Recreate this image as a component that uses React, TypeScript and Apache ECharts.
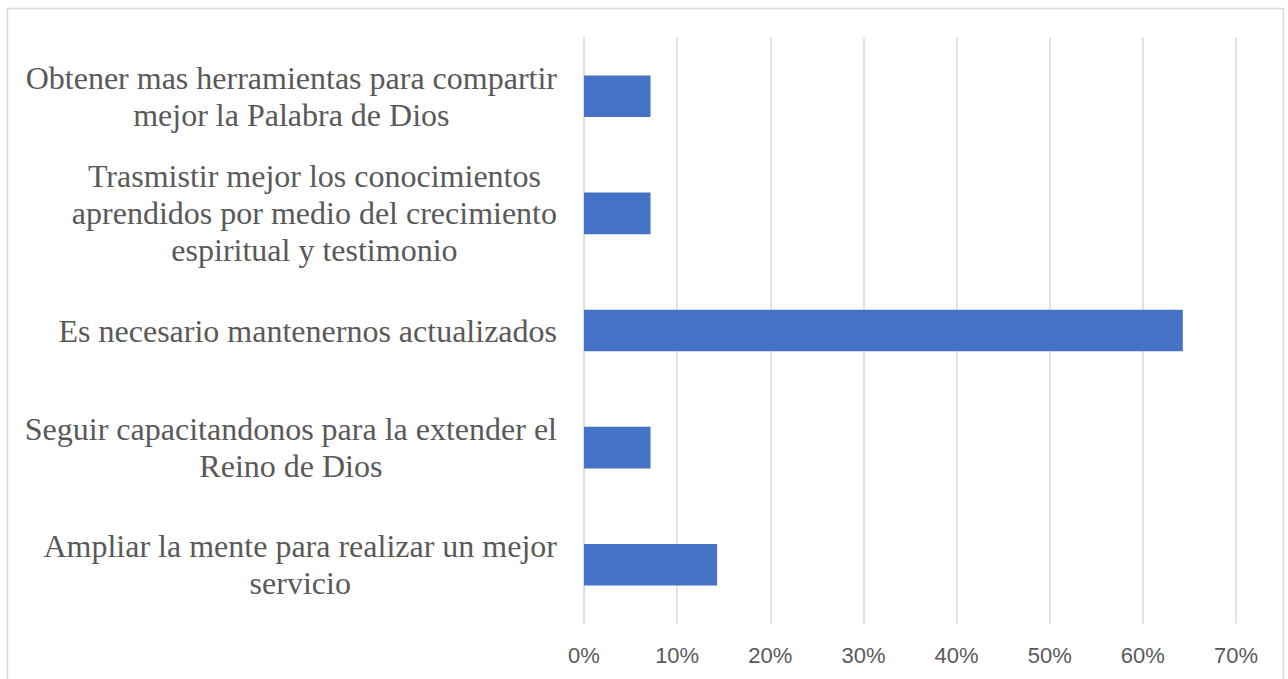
import React, { useEffect, useRef } from "react";
import * as echarts from "echarts";

const categories: string[] = [
  "Ampliar la mente para realizar un mejor\nservicio",
  "Seguir capacitandonos para la extender el\nReino de Dios",
  "Es necesario mantenernos actualizados",
  "Trasmistir mejor los conocimientos\naprendidos por medio del crecimiento\nespiritual y testimonio",
  "Obtener mas herramientas para compartir\nmejor la Palabra de Dios",
];

const values: number[] = [14.29, 7.14, 64.29, 7.14, 7.14];

const xTicks = { min: 0, max: 70, interval: 10 };

export default function App() {
  const ref = useRef<HTMLDivElement>(null);
  useEffect(() => {
    if (!ref.current) return;
    const chart = echarts.init(ref.current, null, { renderer: "svg" });
    chart.setOption({
      animation: false,
      backgroundColor: "#ffffff",
      graphic: [
        {
          type: "rect",
          shape: { x: 7.5, y: 8.5, width: 1276, height: 720 },
          style: { fill: "none", stroke: "#d9d9d9", lineWidth: 1.5 },
          silent: true,
        },
      ],
      grid: { left: 584, right: 52, top: 37.6, bottom: 55.6, containLabel: false },
      xAxis: {
        type: "value",
        min: xTicks.min,
        max: xTicks.max,
        interval: xTicks.interval,
        axisLine: { show: false },
        axisTick: { show: false },
        splitLine: { show: true, lineStyle: { color: "#d9d9d9", width: 1.5 } },
        axisLabel: {
          formatter: "{value}%",
          color: "#595959",
          fontSize: 22,
          fontFamily: "'Liberation Sans Narrow', 'Liberation Sans', sans-serif",
          margin: 21,
        },
      },
      yAxis: {
        type: "category",
        data: categories,
        axisLine: { show: true, lineStyle: { color: "#d9d9d9", width: 1.5 } },
        axisTick: { show: false },
        axisLabel: {
          align: "right",
          margin: 27,
          formatter: (v: string) =>
            v
              .split("\n")
              .map((l) => `{c|${l}}`)
              .join("\n"),
          rich: {
            c: {
              align: "center",
              fontSize: 32,
              lineHeight: 37,
              fontFamily: "'Liberation Serif', 'Times New Roman', serif",
              color: "#595959",
            },
          },
        },
      },
      series: [
        {
          type: "bar",
          data: values,
          barCategoryGap: "64.5%",
          itemStyle: { color: "#4472c4" },
        },
      ],
    });
    return () => chart.dispose();
  }, []);
  return (
    <div
      ref={ref}
      style={{ position: "fixed", left: 0, top: 0, width: 1288, height: 679 }}
    />
  );
}
